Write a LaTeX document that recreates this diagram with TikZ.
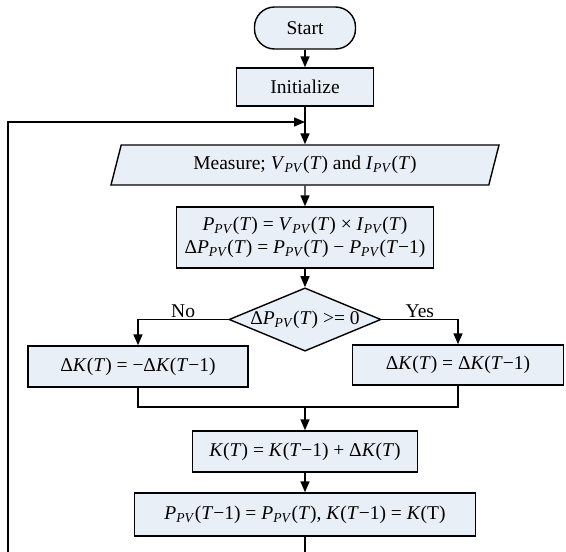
\documentclass[tikz,border=0pt]{standalone}
\usepackage{fontspec}
\setmainfont{Liberation Serif}
\usetikzlibrary{shapes.geometric,arrows.meta}
\definecolor{boxfill}{RGB}{233,239,247}
\newcommand{\pv}{\textsubscript{\textit{PV}}}
\newcommand{\iT}{\textit{T}}
\newcommand{\iK}{\textit{K}}
\newcommand{\iP}{\textit{P}}

\begin{document}
\begin{tikzpicture}[
    x=1pt, y=-1pt,
    every node/.style={draw, line width=1.4pt, fill=boxfill, inner sep=0pt,
                       font=\fontsize{19.5}{22}\selectfont, align=center},
    proc/.style={rectangle},
    term/.style={rectangle, rounded corners=20pt},
    io/.style={trapezium, trapezium left angle=60, trapezium right angle=120,
               trapezium stretches body=true},
    test/.style={diamond, aspect=2.4},
    lbl/.style={draw=none, fill=none},
    line/.style={line width=1.4pt},
    arr/.style={line, -{Triangle[length=11pt,width=9pt]}}]
  \useasboundingbox (0,0) rectangle (566,552);

  \node[term, minimum width=101, minimum height=42] (start) at (305,28) {Start};
  \node[proc, minimum width=137, minimum height=38] (init) at (305,87) {Initialize};
  \node[io, minimum width=388, minimum height=40] (meas) at (305,165)
    {Measure; \textit{V}\pv(\iT) and \textit{I}\pv(\iT)};
  \node[proc, minimum width=257, minimum height=61] (calc) at (305,237.5)
    {\iP\pv(\iT) = \textit{V}\pv(\iT) × \textit{I}\pv(\iT)\\[1pt]
     Δ\iP\pv(\iT) = \iP\pv(\iT) − \iP\pv(\iT−1)};
  \node[test, minimum width=152, minimum height=63] (dec) at (305,319.5)
    {Δ\iP\pv(\iT) >= 0};
  \node[proc, minimum width=220, minimum height=41] (nobox) at (138,366.5)
    {Δ\iK(\iT) = −Δ\iK(\iT−1)};
  \node[proc, minimum width=211, minimum height=40] (yesbox) at (458,365)
    {Δ\iK(\iT) = Δ\iK(\iT−1)};
  \node[proc, minimum width=225, minimum height=41] (kbox) at (305,451.5)
    {\iK(\iT) = \iK(\iT−1) + Δ\iK(\iT)};
  \node[proc, minimum width=341, minimum height=43] (last) at (305,514.5)
    {\iP\pv(\iT−1) = \iP\pv(\iT), \iK(\iT−1) = \iK(T)};

  \coordinate (join) at (305,122);
  \coordinate (merge) at (305,407);
  \coordinate (bottom) at (305,553);
  \coordinate (corner) at (8,553);

  \draw[arr] (start) -- (init);
  \draw[arr] (init) -- (meas);
  \draw[arr] (meas) -- (calc);
  \draw[arr] (calc) -- (dec);
  \draw[arr] (dec.west) -| (nobox.north) node[lbl, pos=0.25, above=1pt] {No};
  \draw[arr] (dec.east) -| (yesbox.north) node[lbl, pos=0.25, above=1pt] {Yes};
  \draw[line] (nobox.south) |- (merge) -| (yesbox.south);
  \draw[arr] (merge) -- (kbox);
  \draw[arr] (kbox) -- (last);
  % loop back to measuring
  \draw[arr] (last) -- (bottom) -- (corner) |- (join);
\end{tikzpicture}
\end{document}
